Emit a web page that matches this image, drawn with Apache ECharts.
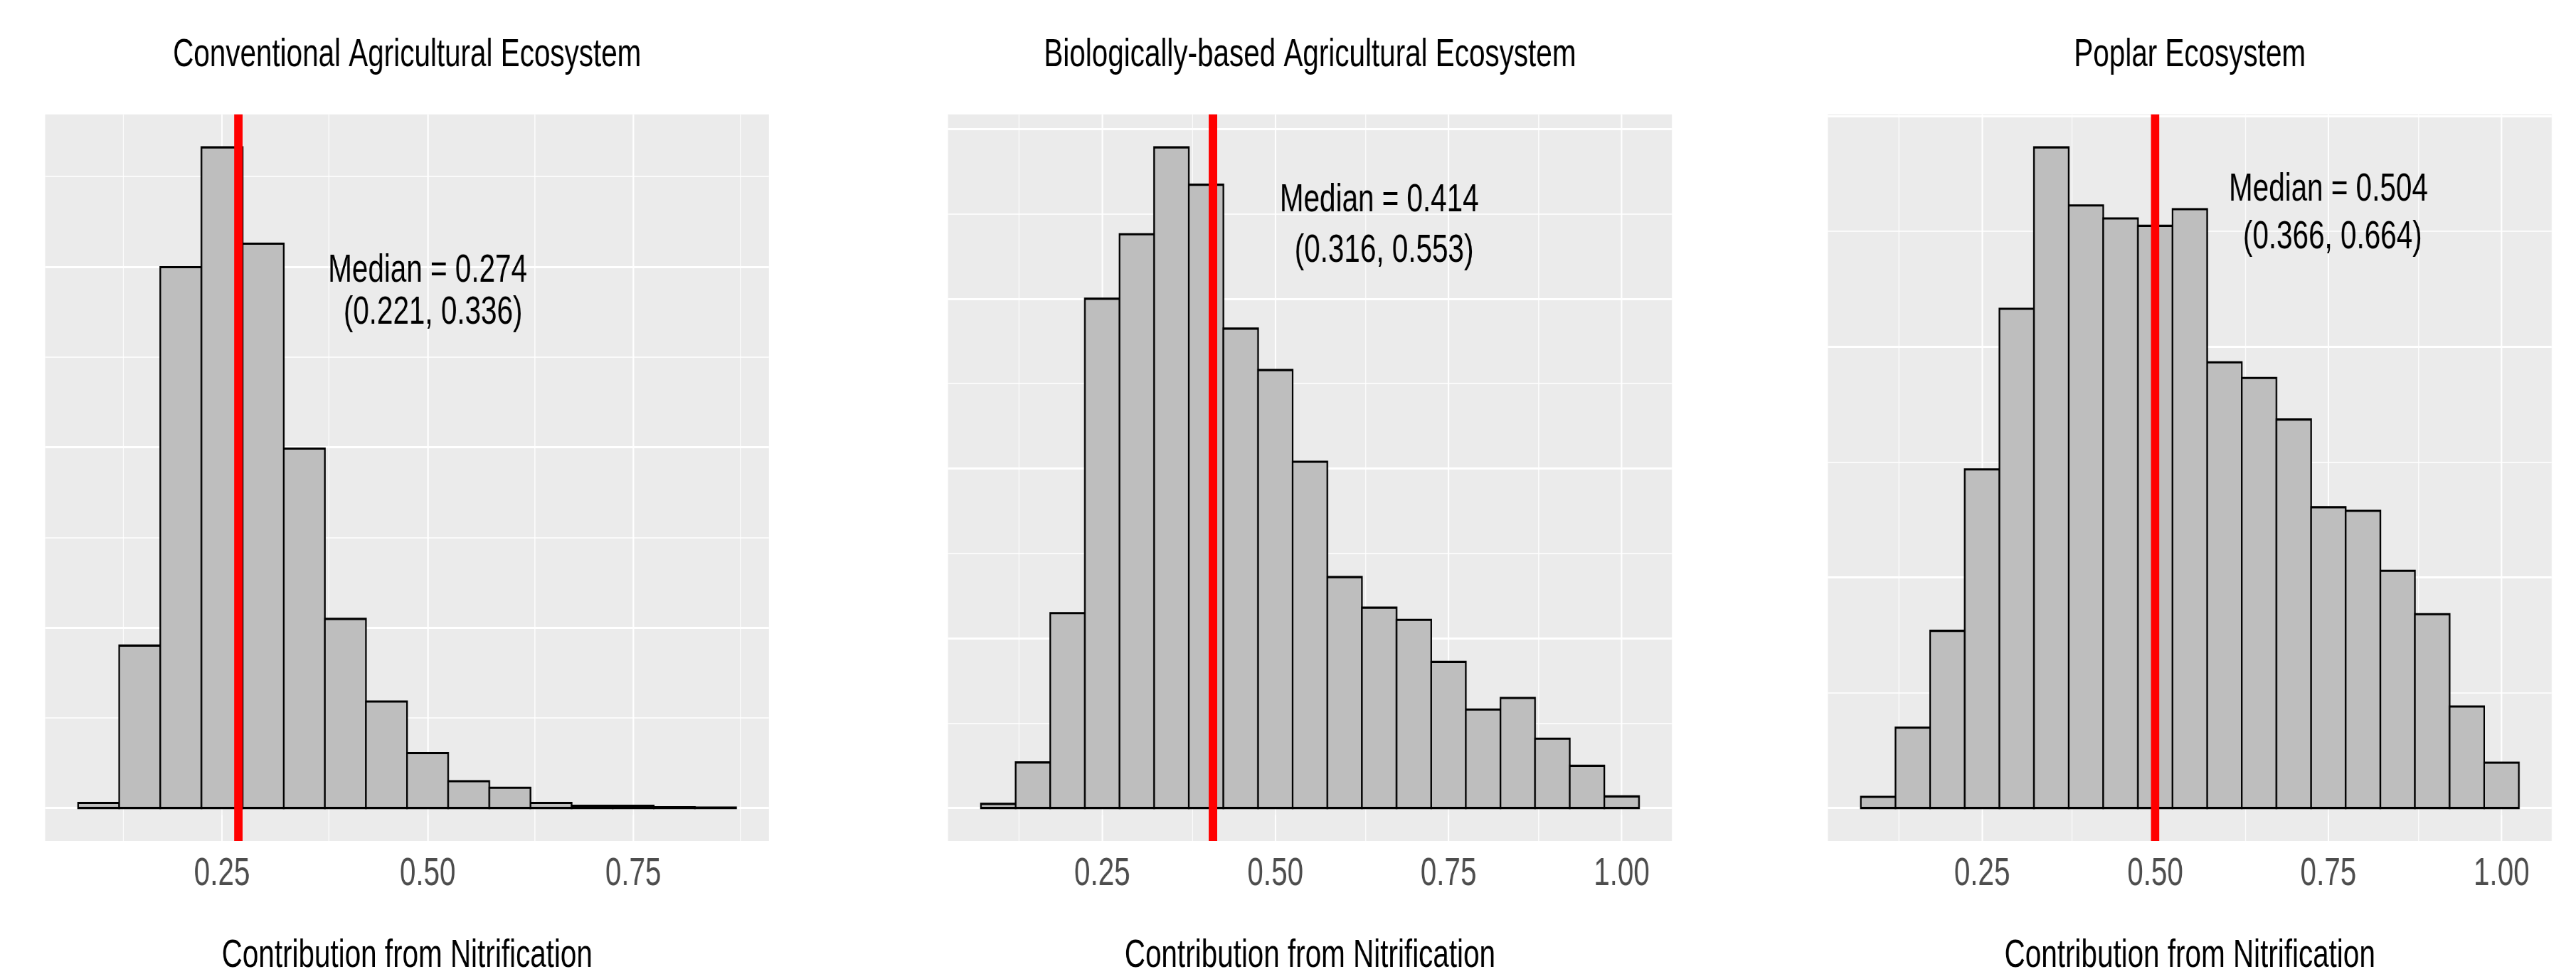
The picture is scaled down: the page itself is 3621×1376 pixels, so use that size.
<!DOCTYPE html>
<html>
<head>
<meta charset="utf-8">
<script src="https://cdn.jsdelivr.net/npm/echarts@6/dist/echarts.min.js"></script>
<style>
html, body { margin: 0; padding: 0; background: #ffffff; overflow: hidden; }
#wrap { width: 3621px; height: 1376px; overflow: hidden; position: relative; }
/* the reference figure is horizontally condensed; the chart is drawn wider and condensed the same way */
#chart { width: 4927px; height: 1376px; transform: scaleX(0.734930); transform-origin: 0 0; }
</style>
</head>
<body>
<div id="wrap"><div id="chart"></div></div>
<script>
// ---------------- data ----------------
const panelTitles = [
  'Conventional Agricultural Ecosystem',
  'Biologically-based Agricultural Ecosystem',
  'Poplar Ecosystem'
];
const xAxisTitle = 'Contribution from Nitrification';
const binWidth = 0.05;

const binCenters1 = [0.10, 0.15, 0.20, 0.25, 0.30, 0.35, 0.40, 0.45, 0.50, 0.55, 0.60, 0.65, 0.70, 0.75, 0.80, 0.85];
const counts1     = [14, 450, 1499, 1831, 1564, 996, 524, 295, 152, 74, 56, 14, 6, 6, 2, 1];

const binCenters2 = [0.10, 0.15, 0.20, 0.25, 0.30, 0.35, 0.40, 0.45, 0.50, 0.55, 0.60, 0.65, 0.70, 0.75, 0.80, 0.85, 0.90, 0.95, 1.00];
const counts2     = [6, 67, 287, 750, 845, 973, 918, 706, 645, 510, 340, 295, 277, 215, 145, 162, 102, 62, 17];

const binCenters3 = [0.10, 0.15, 0.20, 0.25, 0.30, 0.35, 0.40, 0.45, 0.50, 0.55, 0.60, 0.65, 0.70, 0.75, 0.80, 0.85, 0.90, 0.95, 1.00];
const counts3     = [12, 87, 192, 367, 541, 716, 653, 639, 631, 649, 483, 466, 421, 326, 322, 257, 210, 110, 49];

const medians = [0.274, 0.414, 0.504];
const medianLabels = ['Median = 0.274', 'Median = 0.414', 'Median = 0.504'];
const intervalLabels = ['(0.221, 0.336)', '(0.316, 0.553)', '(0.366, 0.664)'];
// annotation anchor points in data units [x, count]
const medianLabelAt   = [[0.500, 1488], [0.650, 895], [0.750, 670]];
const intervalLabelAt = [[0.5065, 1372], [0.657, 820], [0.756, 618]];

const xTickLabels1 = [0.25, 0.50, 0.75];
const xTickLabels23 = [0.25, 0.50, 0.75, 1.00];
const xMinorBreaks = [0.125, 0.375, 0.625, 0.875];
const yMajor1 = [0, 500, 1000, 1500];
const yMinor1 = [250, 750, 1250, 1750];
const yMajor2 = [0, 250, 500, 750, 1000];
const yMinor2 = [125, 375, 625, 875];
const yMajor3 = [0, 250, 500, 750];
const yMinor3 = [125, 375, 625];

// ---------------- build ----------------
const SX = 0.734930;                 // horizontal condensing applied by CSS
const FONT = "'Liberation Sans', Arial, Helvetica, sans-serif";
const FS = 55;

const panels = [
  { centers: binCenters1, counts: counts1, xTicks: xTickLabels1, yMajor: yMajor1, yMinor: yMinor1 },
  { centers: binCenters2, counts: counts2, xTicks: xTickLabels23, yMajor: yMajor2, yMinor: yMinor2 },
  { centers: binCenters3, counts: counts3, xTicks: xTickLabels23, yMajor: yMajor3, yMinor: yMinor3 }
];

const gridLefts = [63.5, 1332.7, 2569.5].map(v => v / SX);
const gridWidth = 1017.4 / SX;
const gridTop = 160.7;
const gridHeight = 1029;

const grids = [], xAxes = [], yAxes = [], series = [], titles = [];

panels.forEach((p, i) => {
  const lo = p.centers[0] - binWidth / 2;
  const hi = p.centers[p.centers.length - 1] + binWidth / 2;
  const pad = 0.05 * (hi - lo);
  const ymax = Math.max.apply(null, p.counts);

  grids.push({
    left: gridLefts[i], top: gridTop, width: gridWidth, height: gridHeight,
    show: true, backgroundColor: '#EBEBEB', borderWidth: 0, containLabel: false
  });

  xAxes.push({
    type: 'value', gridIndex: i, min: lo - pad, max: hi + pad,
    axisLine: { show: false },
    splitLine: { show: false },
    axisTick: { show: true, customValues: p.xTicks, length: 10, lineStyle: { color: '#333333', width: 2.7 } },
    axisLabel: {
      show: true, customValues: p.xTicks, margin: 19,
      formatter: v => v.toFixed(2),
      color: '#4D4D4D', fontSize: FS, fontFamily: FONT
    },
    name: xAxisTitle, nameLocation: 'middle', nameGap: 134,
    nameTextStyle: { color: '#000000', fontSize: FS, fontFamily: FONT }
  });

  yAxes.push({
    type: 'value', gridIndex: i, min: -0.05 * ymax, max: 1.05 * ymax,
    show: false, splitLine: { show: false }
  });

  titles.push({
    text: panelTitles[i],
    left: gridLefts[i] + gridWidth / 2, top: 50, textAlign: 'center', padding: 0,
    textStyle: { color: '#000000', fontSize: FS, fontWeight: 'normal', fontFamily: FONT }
  });

  // background grid lines
  const gl = [];
  p.yMinor.forEach(v => gl.push({ yAxis: v, lineStyle: { color: '#FFFFFF', width: 1.6, type: 'solid' } }));
  xMinorBreaks.forEach(v => gl.push({ xAxis: v, lineStyle: { color: '#FFFFFF', width: 1.6, type: 'solid' } }));
  p.yMajor.forEach(v => gl.push({ yAxis: v, lineStyle: { color: '#FFFFFF', width: 2.9, type: 'solid' } }));
  p.xTicks.forEach(v => gl.push({ xAxis: v, lineStyle: { color: '#FFFFFF', width: 2.9, type: 'solid' } }));
  series.push({
    type: 'line', xAxisIndex: i, yAxisIndex: i, data: [], silent: true, z: 1,
    markLine: { silent: true, symbol: 'none', z: 1, animation: false, label: { show: false }, data: gl }
  });

  // histogram bars
  series.push({
    type: 'custom', xAxisIndex: i, yAxisIndex: i, z: 3, silent: true,
    data: p.centers.map((c, k) => [c, p.counts[k]]),
    encode: { x: 0, y: 1 },
    renderItem: (params, api) => {
      const c = api.value(0), v = api.value(1);
      const a = api.coord([c - binWidth / 2, v]);
      const b = api.coord([c + binWidth / 2, 0]);
      return {
        type: 'rect',
        shape: { x: a[0], y: a[1], width: b[0] - a[0], height: b[1] - a[1] },
        style: { fill: '#BEBEBE', stroke: '#000000', lineWidth: 3.1 }
      };
    }
  });

  // median line
  series.push({
    type: 'line', xAxisIndex: i, yAxisIndex: i, data: [], silent: true, z: 5,
    markLine: {
      silent: true, symbol: 'none', z: 6, animation: false, label: { show: false },
      lineStyle: { color: '#FF0000', width: 16, type: 'solid', opacity: 1 },
      data: [{ xAxis: medians[i] }]
    }
  });

  // annotation texts
  series.push({
    type: 'scatter', xAxisIndex: i, yAxisIndex: i, symbolSize: 0, silent: true, z: 7,
    itemStyle: { opacity: 1 },
    data: [medianLabelAt[i], intervalLabelAt[i]],
    label: {
      show: true, position: 'inside', opacity: 1,
      formatter: prm => (prm.dataIndex === 0 ? medianLabels[i] : intervalLabels[i]),
      color: '#000000', fontSize: FS, fontFamily: FONT
    }
  });
});

const chart = echarts.init(document.getElementById('chart'), null, { renderer: 'canvas' });
chart.setOption({
  animation: false,
  backgroundColor: '#FFFFFF',
  title: titles,
  grid: grids,
  xAxis: xAxes,
  yAxis: yAxes,
  series: series
});
</script>
</body>
</html>
